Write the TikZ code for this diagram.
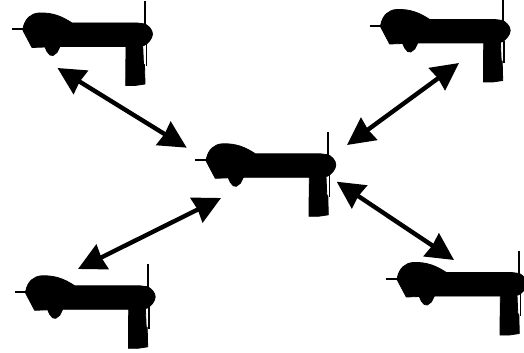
\documentclass[tikz,border=0pt]{standalone}
\usetikzlibrary{arrows.meta}
\tikzset{
  x=0.025cm, y=-0.025cm,
  link/.style={line width=0.11cm, draw=black, {Stealth[length=0.68cm,width=0.68cm,inset=0.03cm]}-{Stealth[length=0.68cm,width=0.68cm,inset=0.03cm]}},
  hull/.style={fill=black, draw=black, line width=0.02cm, line join=round},
  blade/.style={draw=black, line width=0.05cm, line cap=butt},
  drone/.pic={
    \draw[blade] (-133,-3.3) -- (-120,-3.3);
    \draw[blade] (0,-31) -- (0,-6);
    \draw[blade, line width=0.03cm] (1.2,12) -- (1.2,34);
    \filldraw[hull] (-122,-4) .. controls (-120,-14) and (-114,-19) .. (-106,-19.5)
      .. controls (-92,-20) and (-83,-16) .. (-73,-9.5)
      -- (-30,-9.5) -- (-8,-9.5) -- (0,-8.5)
      .. controls (3,-7) and (7.5,-3) .. (7.5,1.5)
      .. controls (7.5,6) and (3,11) .. (-1,13)
      -- (-19,14) -- (-85,14)
      -- (-88,20) -- (-92,23) -- (-95,22.5) -- (-98,19) -- (-100,14.5)
      -- (-113,15) -- (-122,-2) -- cycle;
    \filldraw[hull] (-19,13) -- (-19.3,53) -- (-10,53) -- (0,51.5) -- (-0.5,32) -- (-1.5,32) -- (-2.3,13) -- cycle;
  }
}
\begin{document}
\begin{tikzpicture}
\useasboundingbox (0,0) rectangle (524,353);
\pic at (145,32.5) {drone};
\pic at (502.7,29) {drone};
\pic at (328.3,163.3) {drone};
\pic at (147.7,295.3) {drone};
\pic at (519.3,282) {drone};
\coordinate (nwtip) at (57.5,68);
\coordinate (cnwtip) at (186.7,147.7);
\coordinate (cnetip) at (347,145);
\coordinate (netip) at (459,63);
\coordinate (swtip) at (78,269);
\coordinate (cswtip) at (221,198);
\coordinate (csetip) at (336.7,181.7);
\coordinate (setip) at (454,260);
\draw[link] (nwtip) -- (cnwtip);
\draw[link] (cnetip) -- (netip);
\draw[link] (swtip) -- (cswtip);
\draw[link] (csetip) -- (setip);
\end{tikzpicture}
\end{document}
